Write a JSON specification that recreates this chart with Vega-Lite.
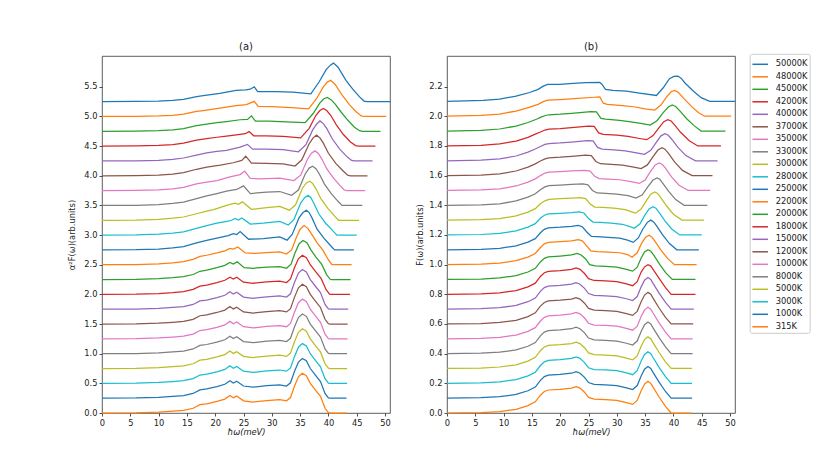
{
  "$schema": "https://vega.github.io/schema/vega-lite/v6.json",
  "padding": {"left": 67, "top": 41, "right": 4, "bottom": 4},
  "background": "white",
  "spacing": 57,
  "bounds": "flush",
  "datasets": {
    "a": [
      {"t":315,"x":0,"y":0},{"t":315,"x":6,"y":0.003},{"t":315,"x":10,"y":0.015},{"t":315,"x":12.5,"y":0.03},{"t":315,"x":14.4,"y":0.045},{"t":315,"x":16.1,"y":0.08},{"t":315,"x":17.3,"y":0.14},{"t":315,"x":18.5,"y":0.155},{"t":315,"x":20.3,"y":0.195},{"t":315,"x":21.7,"y":0.235},{"t":315,"x":22.6,"y":0.295},{"t":315,"x":23.2,"y":0.255},{"t":315,"x":23.8,"y":0.285},{"t":315,"x":25,"y":0.205},{"t":315,"x":26.7,"y":0.185},{"t":315,"x":29.1,"y":0.21},{"t":315,"x":31.4,"y":0.225},{"t":315,"x":32.6,"y":0.205},{"t":315,"x":33.3,"y":0.26},{"t":315,"x":34,"y":0.45},{"t":315,"x":34.7,"y":0.61},{"t":315,"x":35.4,"y":0.67},{"t":315,"x":36.1,"y":0.63},{"t":315,"x":36.8,"y":0.5},{"t":315,"x":37.6,"y":0.4},{"t":315,"x":38.6,"y":0.28},{"t":315,"x":39.4,"y":0.08},{"t":315,"x":40,"y":0.005},{"t":315,"x":40.3,"y":0},{"t":315,"x":43.2,"y":0},
      {"t":1000,"x":0,"y":0.25},{"t":1000,"x":6,"y":0.253},{"t":1000,"x":10,"y":0.265},{"t":1000,"x":12.5,"y":0.28},{"t":1000,"x":14.4,"y":0.295},{"t":1000,"x":16.1,"y":0.33},{"t":1000,"x":17.3,"y":0.39},{"t":1000,"x":18.5,"y":0.405},{"t":1000,"x":20.3,"y":0.445},{"t":1000,"x":21.7,"y":0.485},{"t":1000,"x":22.6,"y":0.545},{"t":1000,"x":23.2,"y":0.505},{"t":1000,"x":23.8,"y":0.535},{"t":1000,"x":25,"y":0.455},{"t":1000,"x":26.7,"y":0.435},{"t":1000,"x":29.1,"y":0.46},{"t":1000,"x":31.4,"y":0.475},{"t":1000,"x":32.6,"y":0.455},{"t":1000,"x":33.3,"y":0.51},{"t":1000,"x":34,"y":0.7},{"t":1000,"x":34.7,"y":0.86},{"t":1000,"x":35.4,"y":0.92},{"t":1000,"x":36.1,"y":0.88},{"t":1000,"x":36.8,"y":0.75},{"t":1000,"x":37.6,"y":0.65},{"t":1000,"x":38.6,"y":0.53},{"t":1000,"x":39.4,"y":0.33},{"t":1000,"x":40,"y":0.255},{"t":1000,"x":40.3,"y":0.25},{"t":1000,"x":43.2,"y":0.25},
      {"t":3000,"x":0,"y":0.5},{"t":3000,"x":6,"y":0.503},{"t":3000,"x":10,"y":0.515},{"t":3000,"x":12.5,"y":0.53},{"t":3000,"x":14.4,"y":0.545},{"t":3000,"x":16.1,"y":0.58},{"t":3000,"x":17.3,"y":0.64},{"t":3000,"x":18.5,"y":0.655},{"t":3000,"x":20.3,"y":0.695},{"t":3000,"x":21.7,"y":0.735},{"t":3000,"x":22.6,"y":0.795},{"t":3000,"x":23.2,"y":0.755},{"t":3000,"x":23.8,"y":0.785},{"t":3000,"x":25,"y":0.705},{"t":3000,"x":26.7,"y":0.685},{"t":3000,"x":29.1,"y":0.71},{"t":3000,"x":31.4,"y":0.725},{"t":3000,"x":32.6,"y":0.705},{"t":3000,"x":33.3,"y":0.76},{"t":3000,"x":34,"y":0.95},{"t":3000,"x":34.7,"y":1.11},{"t":3000,"x":35.4,"y":1.17},{"t":3000,"x":36.1,"y":1.13},{"t":3000,"x":36.8,"y":1.0},{"t":3000,"x":37.6,"y":0.9},{"t":3000,"x":38.6,"y":0.78},{"t":3000,"x":39.4,"y":0.58},{"t":3000,"x":40,"y":0.505},{"t":3000,"x":40.3,"y":0.5},{"t":3000,"x":43.3,"y":0.5},
      {"t":5000,"x":0,"y":0.75},{"t":5000,"x":6,"y":0.753},{"t":5000,"x":10,"y":0.765},{"t":5000,"x":12.5,"y":0.78},{"t":5000,"x":14.4,"y":0.795},{"t":5000,"x":16.1,"y":0.83},{"t":5000,"x":17.3,"y":0.89},{"t":5000,"x":18.5,"y":0.905},{"t":5000,"x":20.3,"y":0.945},{"t":5000,"x":21.7,"y":0.985},{"t":5000,"x":22.6,"y":1.045},{"t":5000,"x":23.2,"y":1.005},{"t":5000,"x":23.8,"y":1.035},{"t":5000,"x":25,"y":0.955},{"t":5000,"x":26.7,"y":0.935},{"t":5000,"x":29.1,"y":0.96},{"t":5000,"x":31.4,"y":0.975},{"t":5000,"x":32.6,"y":0.955},{"t":5000,"x":33.3,"y":1.01},{"t":5000,"x":34,"y":1.2},{"t":5000,"x":34.7,"y":1.36},{"t":5000,"x":35.4,"y":1.42},{"t":5000,"x":36.1,"y":1.38},{"t":5000,"x":36.8,"y":1.25},{"t":5000,"x":37.6,"y":1.15},{"t":5000,"x":38.6,"y":1.03},{"t":5000,"x":39.4,"y":0.83},{"t":5000,"x":40,"y":0.755},{"t":5000,"x":40.3,"y":0.75},{"t":5000,"x":43.3,"y":0.75},
      {"t":8000,"x":0,"y":1},{"t":8000,"x":6,"y":1.003},{"t":8000,"x":10,"y":1.015},{"t":8000,"x":12.5,"y":1.03},{"t":8000,"x":14.4,"y":1.045},{"t":8000,"x":16.1,"y":1.08},{"t":8000,"x":17.3,"y":1.14},{"t":8000,"x":18.5,"y":1.155},{"t":8000,"x":20.3,"y":1.195},{"t":8000,"x":21.7,"y":1.235},{"t":8000,"x":22.6,"y":1.295},{"t":8000,"x":23.2,"y":1.255},{"t":8000,"x":23.8,"y":1.285},{"t":8000,"x":25,"y":1.205},{"t":8000,"x":26.7,"y":1.185},{"t":8000,"x":29.1,"y":1.21},{"t":8000,"x":31.4,"y":1.225},{"t":8000,"x":32.6,"y":1.205},{"t":8000,"x":33.3,"y":1.26},{"t":8000,"x":34,"y":1.45},{"t":8000,"x":34.7,"y":1.61},{"t":8000,"x":35.4,"y":1.67},{"t":8000,"x":36.1,"y":1.63},{"t":8000,"x":36.8,"y":1.5},{"t":8000,"x":37.6,"y":1.4},{"t":8000,"x":38.6,"y":1.28},{"t":8000,"x":39.4,"y":1.08},{"t":8000,"x":40,"y":1.005},{"t":8000,"x":40.3,"y":1},{"t":8000,"x":43.3,"y":1},
      {"t":10000,"x":0,"y":1.25},{"t":10000,"x":6,"y":1.253},{"t":10000,"x":10,"y":1.265},{"t":10000,"x":12.5,"y":1.28},{"t":10000,"x":14.4,"y":1.295},{"t":10000,"x":16.1,"y":1.33},{"t":10000,"x":17.3,"y":1.39},{"t":10000,"x":18.5,"y":1.405},{"t":10000,"x":20.3,"y":1.445},{"t":10000,"x":21.7,"y":1.485},{"t":10000,"x":22.6,"y":1.545},{"t":10000,"x":23.2,"y":1.505},{"t":10000,"x":23.8,"y":1.535},{"t":10000,"x":25,"y":1.455},{"t":10000,"x":26.7,"y":1.435},{"t":10000,"x":29.1,"y":1.46},{"t":10000,"x":31.4,"y":1.475},{"t":10000,"x":32.6,"y":1.455},{"t":10000,"x":33.3,"y":1.51},{"t":10000,"x":34,"y":1.7},{"t":10000,"x":34.7,"y":1.86},{"t":10000,"x":35.4,"y":1.92},{"t":10000,"x":36.1,"y":1.88},{"t":10000,"x":36.8,"y":1.75},{"t":10000,"x":37.6,"y":1.65},{"t":10000,"x":38.6,"y":1.53},{"t":10000,"x":39.4,"y":1.33},{"t":10000,"x":40,"y":1.255},{"t":10000,"x":40.3,"y":1.25},{"t":10000,"x":43.4,"y":1.25},
      {"t":12000,"x":0,"y":1.5},{"t":12000,"x":6,"y":1.503},{"t":12000,"x":10,"y":1.515},{"t":12000,"x":12.5,"y":1.53},{"t":12000,"x":14.4,"y":1.545},{"t":12000,"x":16.1,"y":1.58},{"t":12000,"x":17.3,"y":1.64},{"t":12000,"x":18.5,"y":1.655},{"t":12000,"x":20.3,"y":1.695},{"t":12000,"x":21.7,"y":1.735},{"t":12000,"x":22.6,"y":1.795},{"t":12000,"x":23.2,"y":1.755},{"t":12000,"x":23.8,"y":1.785},{"t":12000,"x":25,"y":1.705},{"t":12000,"x":26.7,"y":1.685},{"t":12000,"x":29.1,"y":1.71},{"t":12000,"x":31.4,"y":1.725},{"t":12000,"x":32.6,"y":1.705},{"t":12000,"x":33.3,"y":1.76},{"t":12000,"x":34,"y":1.95},{"t":12000,"x":34.7,"y":2.11},{"t":12000,"x":35.4,"y":2.17},{"t":12000,"x":36.1,"y":2.13},{"t":12000,"x":36.8,"y":2.0},{"t":12000,"x":37.6,"y":1.9},{"t":12000,"x":38.6,"y":1.78},{"t":12000,"x":39.4,"y":1.58},{"t":12000,"x":40,"y":1.505},{"t":12000,"x":40.3,"y":1.5},{"t":12000,"x":43.4,"y":1.5},
      {"t":15000,"x":0,"y":1.75},{"t":15000,"x":6,"y":1.753},{"t":15000,"x":10,"y":1.765},{"t":15000,"x":12.5,"y":1.78},{"t":15000,"x":14.4,"y":1.795},{"t":15000,"x":16.1,"y":1.83},{"t":15000,"x":17.3,"y":1.89},{"t":15000,"x":18.5,"y":1.905},{"t":15000,"x":20.3,"y":1.945},{"t":15000,"x":21.7,"y":1.985},{"t":15000,"x":22.6,"y":2.045},{"t":15000,"x":23.2,"y":2.005},{"t":15000,"x":23.8,"y":2.035},{"t":15000,"x":25,"y":1.955},{"t":15000,"x":26.7,"y":1.935},{"t":15000,"x":29.1,"y":1.96},{"t":15000,"x":31.4,"y":1.975},{"t":15000,"x":32.6,"y":1.955},{"t":15000,"x":33.3,"y":2.01},{"t":15000,"x":34,"y":2.2},{"t":15000,"x":34.7,"y":2.36},{"t":15000,"x":35.4,"y":2.42},{"t":15000,"x":36.1,"y":2.38},{"t":15000,"x":36.8,"y":2.25},{"t":15000,"x":37.6,"y":2.15},{"t":15000,"x":38.6,"y":2.03},{"t":15000,"x":39.4,"y":1.83},{"t":15000,"x":40,"y":1.755},{"t":15000,"x":40.3,"y":1.75},{"t":15000,"x":43.5,"y":1.75},
      {"t":18000,"x":0,"y":2},{"t":18000,"x":6,"y":2.003},{"t":18000,"x":10,"y":2.015},{"t":18000,"x":12.5,"y":2.03},{"t":18000,"x":14.4,"y":2.048},{"t":18000,"x":16.1,"y":2.085},{"t":18000,"x":17.3,"y":2.14},{"t":18000,"x":18.5,"y":2.158},{"t":18000,"x":20.3,"y":2.198},{"t":18000,"x":21.7,"y":2.238},{"t":18000,"x":22.6,"y":2.29},{"t":18000,"x":23.2,"y":2.258},{"t":18000,"x":23.8,"y":2.29},{"t":18000,"x":25,"y":2.205},{"t":18000,"x":26.7,"y":2.188},{"t":18000,"x":29.1,"y":2.21},{"t":18000,"x":31.4,"y":2.222},{"t":18000,"x":32.6,"y":2.2},{"t":18000,"x":33.3,"y":2.26},{"t":18000,"x":34,"y":2.45},{"t":18000,"x":34.7,"y":2.6},{"t":18000,"x":35.4,"y":2.66},{"t":18000,"x":36.1,"y":2.62},{"t":18000,"x":36.8,"y":2.5},{"t":18000,"x":37.7,"y":2.39},{"t":18000,"x":38.7,"y":2.27},{"t":18000,"x":39.6,"y":2.08},{"t":18000,"x":40.2,"y":2.005},{"t":18000,"x":40.5,"y":2},{"t":18000,"x":43.8,"y":2},
      {"t":20000,"x":0,"y":2.25},{"t":20000,"x":6,"y":2.253},{"t":20000,"x":10,"y":2.265},{"t":20000,"x":12.5,"y":2.282},{"t":20000,"x":14.4,"y":2.3},{"t":20000,"x":16.1,"y":2.335},{"t":20000,"x":17.3,"y":2.39},{"t":20000,"x":18.5,"y":2.41},{"t":20000,"x":20.3,"y":2.45},{"t":20000,"x":21.7,"y":2.49},{"t":20000,"x":22.6,"y":2.54},{"t":20000,"x":23.2,"y":2.51},{"t":20000,"x":23.9,"y":2.55},{"t":20000,"x":25.1,"y":2.45},{"t":20000,"x":26.7,"y":2.44},{"t":20000,"x":29.1,"y":2.46},{"t":20000,"x":31.4,"y":2.47},{"t":20000,"x":32.6,"y":2.44},{"t":20000,"x":33.4,"y":2.51},{"t":20000,"x":34.1,"y":2.7},{"t":20000,"x":34.8,"y":2.85},{"t":20000,"x":35.5,"y":2.91},{"t":20000,"x":36.2,"y":2.87},{"t":20000,"x":36.9,"y":2.75},{"t":20000,"x":37.8,"y":2.63},{"t":20000,"x":38.8,"y":2.51},{"t":20000,"x":39.7,"y":2.33},{"t":20000,"x":40.3,"y":2.255},{"t":20000,"x":40.6,"y":2.25},{"t":20000,"x":43.9,"y":2.25},
      {"t":22000,"x":0,"y":2.5},{"t":22000,"x":6,"y":2.503},{"t":22000,"x":10,"y":2.515},{"t":22000,"x":12.5,"y":2.533},{"t":22000,"x":14.4,"y":2.552},{"t":22000,"x":16.1,"y":2.59},{"t":22000,"x":17.3,"y":2.64},{"t":22000,"x":18.5,"y":2.66},{"t":22000,"x":20.3,"y":2.7},{"t":22000,"x":21.7,"y":2.735},{"t":22000,"x":22.6,"y":2.775},{"t":22000,"x":23.2,"y":2.765},{"t":22000,"x":24,"y":2.8},{"t":22000,"x":25.3,"y":2.7},{"t":22000,"x":26.9,"y":2.69},{"t":22000,"x":29.1,"y":2.705},{"t":22000,"x":31.4,"y":2.715},{"t":22000,"x":32.6,"y":2.68},{"t":22000,"x":33.5,"y":2.75},{"t":22000,"x":34.3,"y":2.95},{"t":22000,"x":35,"y":3.1},{"t":22000,"x":35.7,"y":3.16},{"t":22000,"x":36.4,"y":3.11},{"t":22000,"x":37.2,"y":2.99},{"t":22000,"x":38,"y":2.87},{"t":22000,"x":39,"y":2.75},{"t":22000,"x":40,"y":2.58},{"t":22000,"x":40.6,"y":2.505},{"t":22000,"x":40.9,"y":2.5},{"t":22000,"x":44.1,"y":2.5},
      {"t":25000,"x":0,"y":2.75},{"t":25000,"x":6,"y":2.753},{"t":25000,"x":10,"y":2.765},{"t":25000,"x":12.5,"y":2.785},{"t":25000,"x":14.4,"y":2.805},{"t":25000,"x":16.7,"y":2.87},{"t":25000,"x":18.5,"y":2.91},{"t":25000,"x":20.3,"y":2.95},{"t":25000,"x":22.3,"y":2.99},{"t":25000,"x":23.2,"y":3.025},{"t":25000,"x":23.8,"y":3.01},{"t":25000,"x":24.4,"y":3.06},{"t":25000,"x":25.9,"y":2.93},{"t":25000,"x":28.5,"y":2.94},{"t":25000,"x":31.4,"y":2.97},{"t":25000,"x":32.7,"y":2.915},{"t":25000,"x":33.6,"y":3.01},{"t":25000,"x":34.8,"y":3.29},{"t":25000,"x":35.5,"y":3.38},{"t":25000,"x":36.1,"y":3.42},{"t":25000,"x":36.6,"y":3.38},{"t":25000,"x":37.1,"y":3.29},{"t":25000,"x":38,"y":3.1},{"t":25000,"x":39.2,"y":2.95},{"t":25000,"x":40.4,"y":2.82},{"t":25000,"x":41.1,"y":2.75},{"t":25000,"x":44.5,"y":2.75},
      {"t":28000,"x":0,"y":3},{"t":28000,"x":6,"y":3.003},{"t":28000,"x":10,"y":3.015},{"t":28000,"x":12.5,"y":3.035},{"t":28000,"x":14.4,"y":3.055},{"t":28000,"x":16.7,"y":3.115},{"t":28000,"x":18.5,"y":3.16},{"t":28000,"x":20.3,"y":3.2},{"t":28000,"x":22.3,"y":3.235},{"t":28000,"x":22.9,"y":3.25},{"t":28000,"x":23.5,"y":3.28},{"t":28000,"x":24.1,"y":3.255},{"t":28000,"x":24.7,"y":3.29},{"t":28000,"x":26.2,"y":3.185},{"t":28000,"x":28.5,"y":3.2},{"t":28000,"x":31.4,"y":3.23},{"t":28000,"x":32.9,"y":3.17},{"t":28000,"x":33.9,"y":3.26},{"t":28000,"x":35.1,"y":3.54},{"t":28000,"x":35.8,"y":3.63},{"t":28000,"x":36.4,"y":3.67},{"t":28000,"x":36.9,"y":3.63},{"t":28000,"x":37.4,"y":3.54},{"t":28000,"x":38.3,"y":3.36},{"t":28000,"x":39.5,"y":3.2},{"t":28000,"x":40.8,"y":3.07},{"t":28000,"x":41.5,"y":3},{"t":28000,"x":45,"y":3},
      {"t":30000,"x":0,"y":3.25},{"t":30000,"x":6,"y":3.253},{"t":30000,"x":10,"y":3.265},{"t":30000,"x":12.5,"y":3.285},{"t":30000,"x":14.4,"y":3.305},{"t":30000,"x":16.7,"y":3.36},{"t":30000,"x":18.5,"y":3.405},{"t":30000,"x":19.7,"y":3.43},{"t":30000,"x":22.3,"y":3.51},{"t":30000,"x":23.5,"y":3.54},{"t":30000,"x":24.1,"y":3.52},{"t":30000,"x":24.8,"y":3.56},{"t":30000,"x":26.4,"y":3.435},{"t":30000,"x":28.7,"y":3.46},{"t":30000,"x":31.4,"y":3.485},{"t":30000,"x":33.1,"y":3.42},{"t":30000,"x":34.2,"y":3.51},{"t":30000,"x":35.4,"y":3.79},{"t":30000,"x":36.1,"y":3.88},{"t":30000,"x":36.7,"y":3.91},{"t":30000,"x":37.2,"y":3.87},{"t":30000,"x":37.8,"y":3.78},{"t":30000,"x":38.7,"y":3.61},{"t":30000,"x":39.9,"y":3.45},{"t":30000,"x":41.1,"y":3.32},{"t":30000,"x":41.8,"y":3.25},{"t":30000,"x":45.4,"y":3.25},
      {"t":33000,"x":0,"y":3.5},{"t":33000,"x":6,"y":3.503},{"t":33000,"x":10,"y":3.515},{"t":33000,"x":12.5,"y":3.535},{"t":33000,"x":14.4,"y":3.555},{"t":33000,"x":16.7,"y":3.615},{"t":33000,"x":18.5,"y":3.66},{"t":33000,"x":20.3,"y":3.7},{"t":33000,"x":22,"y":3.74},{"t":33000,"x":23.8,"y":3.77},{"t":33000,"x":25,"y":3.83},{"t":33000,"x":26.2,"y":3.7},{"t":33000,"x":29.1,"y":3.725},{"t":33000,"x":31.4,"y":3.735},{"t":33000,"x":33.5,"y":3.67},{"t":33000,"x":34.7,"y":3.76},{"t":33000,"x":35.9,"y":4.03},{"t":33000,"x":36.6,"y":4.13},{"t":33000,"x":37.2,"y":4.16},{"t":33000,"x":37.8,"y":4.12},{"t":33000,"x":38.4,"y":4.03},{"t":33000,"x":39.3,"y":3.86},{"t":33000,"x":40.5,"y":3.7},{"t":33000,"x":41.7,"y":3.57},{"t":33000,"x":42.4,"y":3.5},{"t":33000,"x":46,"y":3.5},
      {"t":35000,"x":0,"y":3.75},{"t":35000,"x":6,"y":3.753},{"t":35000,"x":10,"y":3.762},{"t":35000,"x":12.5,"y":3.78},{"t":35000,"x":14.4,"y":3.805},{"t":35000,"x":16.7,"y":3.865},{"t":35000,"x":18.5,"y":3.895},{"t":35000,"x":20.3,"y":3.92},{"t":35000,"x":22.6,"y":3.98},{"t":35000,"x":24.4,"y":4.02},{"t":35000,"x":25.2,"y":4.08},{"t":35000,"x":26.2,"y":3.955},{"t":35000,"x":27.9,"y":3.95},{"t":35000,"x":31.4,"y":3.96},{"t":35000,"x":33.9,"y":3.92},{"t":35000,"x":35.1,"y":4.01},{"t":35000,"x":36.3,"y":4.28},{"t":35000,"x":37,"y":4.38},{"t":35000,"x":37.6,"y":4.42},{"t":35000,"x":38.2,"y":4.38},{"t":35000,"x":38.8,"y":4.29},{"t":35000,"x":39.7,"y":4.12},{"t":35000,"x":40.9,"y":3.96},{"t":35000,"x":42.1,"y":3.83},{"t":35000,"x":42.8,"y":3.76},{"t":35000,"x":43.3,"y":3.75},{"t":35000,"x":46.5,"y":3.75},
      {"t":37000,"x":0,"y":4},{"t":37000,"x":6,"y":4.003},{"t":37000,"x":10,"y":4.012},{"t":37000,"x":12.5,"y":4.03},{"t":37000,"x":14.4,"y":4.055},{"t":37000,"x":16.7,"y":4.11},{"t":37000,"x":18.5,"y":4.145},{"t":37000,"x":20.9,"y":4.18},{"t":37000,"x":23.2,"y":4.22},{"t":37000,"x":24.7,"y":4.26},{"t":37000,"x":25.4,"y":4.33},{"t":37000,"x":26.4,"y":4.215},{"t":37000,"x":29,"y":4.21},{"t":37000,"x":32,"y":4.2},{"t":37000,"x":34.1,"y":4.165},{"t":37000,"x":35.3,"y":4.27},{"t":37000,"x":36.6,"y":4.54},{"t":37000,"x":37.3,"y":4.64},{"t":37000,"x":37.9,"y":4.685},{"t":37000,"x":38.5,"y":4.64},{"t":37000,"x":39.1,"y":4.55},{"t":37000,"x":40,"y":4.38},{"t":37000,"x":41.3,"y":4.21},{"t":37000,"x":42.6,"y":4.08},{"t":37000,"x":43.4,"y":4.01},{"t":37000,"x":43.9,"y":4},{"t":37000,"x":46.9,"y":4},
      {"t":40000,"x":0,"y":4.25},{"t":40000,"x":6,"y":4.253},{"t":40000,"x":10,"y":4.262},{"t":40000,"x":12.5,"y":4.275},{"t":40000,"x":14.4,"y":4.3},{"t":40000,"x":16.7,"y":4.35},{"t":40000,"x":18.5,"y":4.385},{"t":40000,"x":20.3,"y":4.41},{"t":40000,"x":22,"y":4.43},{"t":40000,"x":24.4,"y":4.485},{"t":40000,"x":25.7,"y":4.53},{"t":40000,"x":26.6,"y":4.45},{"t":40000,"x":29,"y":4.45},{"t":40000,"x":32,"y":4.44},{"t":40000,"x":34.7,"y":4.405},{"t":40000,"x":36,"y":4.52},{"t":40000,"x":37.2,"y":4.77},{"t":40000,"x":37.9,"y":4.87},{"t":40000,"x":38.5,"y":4.925},{"t":40000,"x":39.1,"y":4.88},{"t":40000,"x":39.7,"y":4.8},{"t":40000,"x":40.7,"y":4.62},{"t":40000,"x":42,"y":4.45},{"t":40000,"x":43.3,"y":4.32},{"t":40000,"x":44.1,"y":4.26},{"t":40000,"x":44.6,"y":4.25},{"t":40000,"x":47.8,"y":4.25},
      {"t":42000,"x":0,"y":4.5},{"t":42000,"x":6,"y":4.503},{"t":42000,"x":10,"y":4.512},{"t":42000,"x":12.5,"y":4.525},{"t":42000,"x":14.4,"y":4.55},{"t":42000,"x":16.7,"y":4.6},{"t":42000,"x":18.5,"y":4.625},{"t":42000,"x":20.3,"y":4.65},{"t":42000,"x":22,"y":4.67},{"t":42000,"x":24.4,"y":4.7},{"t":42000,"x":25.3,"y":4.71},{"t":42000,"x":26,"y":4.745},{"t":42000,"x":26.8,"y":4.675},{"t":42000,"x":29,"y":4.675},{"t":42000,"x":32,"y":4.665},{"t":42000,"x":35.1,"y":4.64},{"t":42000,"x":36.6,"y":4.8},{"t":42000,"x":37.8,"y":5.02},{"t":42000,"x":38.5,"y":5.1},{"t":42000,"x":39.1,"y":5.135},{"t":42000,"x":39.7,"y":5.1},{"t":42000,"x":40.4,"y":5.02},{"t":42000,"x":41.4,"y":4.86},{"t":42000,"x":42.6,"y":4.7},{"t":42000,"x":43.9,"y":4.57},{"t":42000,"x":44.8,"y":4.51},{"t":42000,"x":45.3,"y":4.5},{"t":42000,"x":48.3,"y":4.5},
      {"t":45000,"x":0,"y":4.75},{"t":45000,"x":6,"y":4.753},{"t":45000,"x":10,"y":4.762},{"t":45000,"x":12.5,"y":4.775},{"t":45000,"x":14.4,"y":4.795},{"t":45000,"x":16.7,"y":4.845},{"t":45000,"x":18.5,"y":4.87},{"t":45000,"x":20.3,"y":4.895},{"t":45000,"x":22,"y":4.915},{"t":45000,"x":24.4,"y":4.945},{"t":45000,"x":25.7,"y":4.95},{"t":45000,"x":26.4,"y":5.01},{"t":45000,"x":27.1,"y":4.92},{"t":45000,"x":29.5,"y":4.92},{"t":45000,"x":32.5,"y":4.91},{"t":45000,"x":35.9,"y":4.895},{"t":45000,"x":37.3,"y":5.05},{"t":45000,"x":38.5,"y":5.23},{"t":45000,"x":39.2,"y":5.3},{"t":45000,"x":39.8,"y":5.32},{"t":45000,"x":40.5,"y":5.28},{"t":45000,"x":41.2,"y":5.21},{"t":45000,"x":42.2,"y":5.08},{"t":45000,"x":43.4,"y":4.94},{"t":45000,"x":44.6,"y":4.82},{"t":45000,"x":45.5,"y":4.76},{"t":45000,"x":46,"y":4.75},{"t":45000,"x":49.2,"y":4.75},
      {"t":48000,"x":0,"y":5},{"t":48000,"x":6,"y":5.003},{"t":48000,"x":10,"y":5.01},{"t":48000,"x":12.5,"y":5.02},{"t":48000,"x":14.4,"y":5.04},{"t":48000,"x":16.7,"y":5.085},{"t":48000,"x":17.9,"y":5.1},{"t":48000,"x":20.8,"y":5.14},{"t":48000,"x":23.7,"y":5.185},{"t":48000,"x":25.5,"y":5.2},{"t":48000,"x":26.9,"y":5.255},{"t":48000,"x":27.6,"y":5.17},{"t":48000,"x":30,"y":5.165},{"t":48000,"x":33.5,"y":5.15},{"t":48000,"x":36.5,"y":5.13},{"t":48000,"x":37.9,"y":5.3},{"t":48000,"x":39.1,"y":5.5},{"t":48000,"x":39.8,"y":5.58},{"t":48000,"x":40.4,"y":5.61},{"t":48000,"x":41.2,"y":5.54},{"t":48000,"x":42.5,"y":5.35},{"t":48000,"x":43.7,"y":5.2},{"t":48000,"x":44.9,"y":5.08},{"t":48000,"x":45.8,"y":5.01},{"t":48000,"x":46.3,"y":5},{"t":48000,"x":50.2,"y":5},
      {"t":50000,"x":0,"y":5.25},{"t":50000,"x":6,"y":5.253},{"t":50000,"x":10,"y":5.26},{"t":50000,"x":12.5,"y":5.27},{"t":50000,"x":14.4,"y":5.29},{"t":50000,"x":16.7,"y":5.335},{"t":50000,"x":17.9,"y":5.35},{"t":50000,"x":20.8,"y":5.39},{"t":50000,"x":23.7,"y":5.44},{"t":50000,"x":25.4,"y":5.45},{"t":50000,"x":26.2,"y":5.46},{"t":50000,"x":26.9,"y":5.5},{"t":50000,"x":27.5,"y":5.42},{"t":50000,"x":30.7,"y":5.42},{"t":50000,"x":33.7,"y":5.41},{"t":50000,"x":36.9,"y":5.38},{"t":50000,"x":38.4,"y":5.59},{"t":50000,"x":39.6,"y":5.79},{"t":50000,"x":40.4,"y":5.87},{"t":50000,"x":40.9,"y":5.9},{"t":50000,"x":41.7,"y":5.83},{"t":50000,"x":43.1,"y":5.61},{"t":50000,"x":44.3,"y":5.46},{"t":50000,"x":45.5,"y":5.33},{"t":50000,"x":46.3,"y":5.26},{"t":50000,"x":46.8,"y":5.25},{"t":50000,"x":50.88,"y":5.25}
    ],
    "b": [
      {"t":315,"x":0,"y":0},{"t":315,"x":6,"y":0.003},{"t":315,"x":9.3,"y":0.01},{"t":315,"x":12.2,"y":0.025},{"t":315,"x":14.3,"y":0.05},{"t":315,"x":15.6,"y":0.075},{"t":315,"x":16.5,"y":0.12},{"t":315,"x":17.2,"y":0.145},{"t":315,"x":17.9,"y":0.155},{"t":315,"x":20,"y":0.16},{"t":315,"x":22,"y":0.168},{"t":315,"x":22.8,"y":0.178},{"t":315,"x":23.5,"y":0.168},{"t":315,"x":24.3,"y":0.14},{"t":315,"x":25,"y":0.105},{"t":315,"x":26,"y":0.093},{"t":315,"x":28,"y":0.09},{"t":315,"x":30,"y":0.085},{"t":315,"x":31.7,"y":0.07},{"t":315,"x":32.8,"y":0.058},{"t":315,"x":33.6,"y":0.085},{"t":315,"x":34.3,"y":0.15},{"t":315,"x":34.9,"y":0.195},{"t":315,"x":35.5,"y":0.213},{"t":315,"x":36,"y":0.2},{"t":315,"x":36.4,"y":0.174},{"t":315,"x":37.5,"y":0.106},{"t":315,"x":38.6,"y":0.045},{"t":315,"x":39.6,"y":0},{"t":315,"x":43.2,"y":0},
      {"t":1000,"x":0,"y":0.1},{"t":1000,"x":6,"y":0.103},{"t":1000,"x":9.3,"y":0.11},{"t":1000,"x":12.2,"y":0.125},{"t":1000,"x":14.3,"y":0.15},{"t":1000,"x":15.6,"y":0.175},{"t":1000,"x":16.5,"y":0.22},{"t":1000,"x":17.2,"y":0.245},{"t":1000,"x":17.9,"y":0.255},{"t":1000,"x":20,"y":0.26},{"t":1000,"x":22,"y":0.268},{"t":1000,"x":22.8,"y":0.278},{"t":1000,"x":23.5,"y":0.268},{"t":1000,"x":24.3,"y":0.24},{"t":1000,"x":25,"y":0.205},{"t":1000,"x":26,"y":0.193},{"t":1000,"x":28,"y":0.19},{"t":1000,"x":30,"y":0.185},{"t":1000,"x":31.7,"y":0.17},{"t":1000,"x":32.8,"y":0.158},{"t":1000,"x":33.6,"y":0.185},{"t":1000,"x":34.3,"y":0.25},{"t":1000,"x":34.9,"y":0.295},{"t":1000,"x":35.5,"y":0.313},{"t":1000,"x":36,"y":0.3},{"t":1000,"x":36.4,"y":0.274},{"t":1000,"x":37.5,"y":0.206},{"t":1000,"x":38.6,"y":0.145},{"t":1000,"x":39.6,"y":0.1},{"t":1000,"x":43.3,"y":0.1},
      {"t":3000,"x":0,"y":0.2},{"t":3000,"x":6,"y":0.203},{"t":3000,"x":9.3,"y":0.21},{"t":3000,"x":12.2,"y":0.225},{"t":3000,"x":14.3,"y":0.25},{"t":3000,"x":15.6,"y":0.275},{"t":3000,"x":16.5,"y":0.32},{"t":3000,"x":17.2,"y":0.345},{"t":3000,"x":17.9,"y":0.355},{"t":3000,"x":20,"y":0.36},{"t":3000,"x":22,"y":0.368},{"t":3000,"x":22.8,"y":0.378},{"t":3000,"x":23.5,"y":0.368},{"t":3000,"x":24.3,"y":0.34},{"t":3000,"x":25,"y":0.305},{"t":3000,"x":26,"y":0.293},{"t":3000,"x":28,"y":0.29},{"t":3000,"x":30,"y":0.285},{"t":3000,"x":31.7,"y":0.27},{"t":3000,"x":32.8,"y":0.258},{"t":3000,"x":33.6,"y":0.285},{"t":3000,"x":34.3,"y":0.35},{"t":3000,"x":34.9,"y":0.395},{"t":3000,"x":35.5,"y":0.413},{"t":3000,"x":36,"y":0.4},{"t":3000,"x":36.4,"y":0.374},{"t":3000,"x":37.5,"y":0.306},{"t":3000,"x":38.6,"y":0.245},{"t":3000,"x":39.6,"y":0.2},{"t":3000,"x":43.3,"y":0.2},
      {"t":5000,"x":0,"y":0.3},{"t":5000,"x":6,"y":0.303},{"t":5000,"x":9.3,"y":0.31},{"t":5000,"x":12.2,"y":0.325},{"t":5000,"x":14.3,"y":0.35},{"t":5000,"x":15.6,"y":0.375},{"t":5000,"x":16.5,"y":0.42},{"t":5000,"x":17.2,"y":0.445},{"t":5000,"x":17.9,"y":0.455},{"t":5000,"x":20,"y":0.46},{"t":5000,"x":22,"y":0.468},{"t":5000,"x":22.8,"y":0.478},{"t":5000,"x":23.5,"y":0.468},{"t":5000,"x":24.3,"y":0.44},{"t":5000,"x":25,"y":0.405},{"t":5000,"x":26,"y":0.393},{"t":5000,"x":28,"y":0.39},{"t":5000,"x":30,"y":0.385},{"t":5000,"x":31.7,"y":0.37},{"t":5000,"x":32.8,"y":0.358},{"t":5000,"x":33.6,"y":0.385},{"t":5000,"x":34.3,"y":0.45},{"t":5000,"x":34.9,"y":0.495},{"t":5000,"x":35.5,"y":0.513},{"t":5000,"x":36,"y":0.5},{"t":5000,"x":36.4,"y":0.474},{"t":5000,"x":37.5,"y":0.406},{"t":5000,"x":38.6,"y":0.345},{"t":5000,"x":39.6,"y":0.3},{"t":5000,"x":43.3,"y":0.3},
      {"t":8000,"x":0,"y":0.4},{"t":8000,"x":6,"y":0.403},{"t":8000,"x":9.3,"y":0.41},{"t":8000,"x":12.2,"y":0.425},{"t":8000,"x":14.3,"y":0.45},{"t":8000,"x":15.6,"y":0.475},{"t":8000,"x":16.5,"y":0.52},{"t":8000,"x":17.2,"y":0.545},{"t":8000,"x":17.9,"y":0.555},{"t":8000,"x":20,"y":0.56},{"t":8000,"x":22,"y":0.568},{"t":8000,"x":22.8,"y":0.578},{"t":8000,"x":23.5,"y":0.568},{"t":8000,"x":24.3,"y":0.54},{"t":8000,"x":25,"y":0.505},{"t":8000,"x":26,"y":0.493},{"t":8000,"x":28,"y":0.49},{"t":8000,"x":30,"y":0.485},{"t":8000,"x":31.7,"y":0.47},{"t":8000,"x":32.8,"y":0.458},{"t":8000,"x":33.6,"y":0.485},{"t":8000,"x":34.3,"y":0.55},{"t":8000,"x":34.9,"y":0.595},{"t":8000,"x":35.5,"y":0.613},{"t":8000,"x":36,"y":0.6},{"t":8000,"x":36.4,"y":0.574},{"t":8000,"x":37.5,"y":0.506},{"t":8000,"x":38.6,"y":0.445},{"t":8000,"x":39.6,"y":0.4},{"t":8000,"x":43.4,"y":0.4},
      {"t":10000,"x":0,"y":0.5},{"t":10000,"x":6,"y":0.503},{"t":10000,"x":9.3,"y":0.51},{"t":10000,"x":12.2,"y":0.525},{"t":10000,"x":14.3,"y":0.55},{"t":10000,"x":15.6,"y":0.575},{"t":10000,"x":16.5,"y":0.62},{"t":10000,"x":17.2,"y":0.645},{"t":10000,"x":17.9,"y":0.655},{"t":10000,"x":20,"y":0.66},{"t":10000,"x":22,"y":0.668},{"t":10000,"x":22.8,"y":0.678},{"t":10000,"x":23.5,"y":0.668},{"t":10000,"x":24.3,"y":0.64},{"t":10000,"x":25,"y":0.605},{"t":10000,"x":26,"y":0.593},{"t":10000,"x":28,"y":0.59},{"t":10000,"x":30,"y":0.585},{"t":10000,"x":31.7,"y":0.57},{"t":10000,"x":32.8,"y":0.558},{"t":10000,"x":33.6,"y":0.585},{"t":10000,"x":34.3,"y":0.65},{"t":10000,"x":34.9,"y":0.695},{"t":10000,"x":35.5,"y":0.713},{"t":10000,"x":36,"y":0.7},{"t":10000,"x":36.4,"y":0.674},{"t":10000,"x":37.5,"y":0.606},{"t":10000,"x":38.6,"y":0.545},{"t":10000,"x":39.6,"y":0.5},{"t":10000,"x":43.4,"y":0.5},
      {"t":12000,"x":0,"y":0.6},{"t":12000,"x":6,"y":0.603},{"t":12000,"x":9.3,"y":0.61},{"t":12000,"x":12.2,"y":0.625},{"t":12000,"x":14.3,"y":0.65},{"t":12000,"x":15.6,"y":0.675},{"t":12000,"x":16.5,"y":0.72},{"t":12000,"x":17.2,"y":0.745},{"t":12000,"x":17.9,"y":0.755},{"t":12000,"x":20,"y":0.76},{"t":12000,"x":22,"y":0.768},{"t":12000,"x":22.8,"y":0.778},{"t":12000,"x":23.5,"y":0.768},{"t":12000,"x":24.3,"y":0.74},{"t":12000,"x":25,"y":0.705},{"t":12000,"x":26,"y":0.693},{"t":12000,"x":28,"y":0.69},{"t":12000,"x":30,"y":0.685},{"t":12000,"x":31.7,"y":0.67},{"t":12000,"x":32.8,"y":0.658},{"t":12000,"x":33.6,"y":0.685},{"t":12000,"x":34.3,"y":0.75},{"t":12000,"x":34.9,"y":0.795},{"t":12000,"x":35.5,"y":0.813},{"t":12000,"x":36,"y":0.8},{"t":12000,"x":36.4,"y":0.774},{"t":12000,"x":37.5,"y":0.706},{"t":12000,"x":38.6,"y":0.645},{"t":12000,"x":39.6,"y":0.6},{"t":12000,"x":43.5,"y":0.6},
      {"t":15000,"x":0,"y":0.7},{"t":15000,"x":6,"y":0.703},{"t":15000,"x":9.3,"y":0.71},{"t":15000,"x":12.2,"y":0.725},{"t":15000,"x":14.3,"y":0.75},{"t":15000,"x":15.6,"y":0.775},{"t":15000,"x":16.5,"y":0.82},{"t":15000,"x":17.2,"y":0.845},{"t":15000,"x":17.9,"y":0.855},{"t":15000,"x":20,"y":0.86},{"t":15000,"x":22,"y":0.868},{"t":15000,"x":22.8,"y":0.878},{"t":15000,"x":23.5,"y":0.868},{"t":15000,"x":24.3,"y":0.84},{"t":15000,"x":25,"y":0.805},{"t":15000,"x":26,"y":0.793},{"t":15000,"x":28,"y":0.79},{"t":15000,"x":30,"y":0.785},{"t":15000,"x":31.7,"y":0.77},{"t":15000,"x":32.8,"y":0.758},{"t":15000,"x":33.6,"y":0.785},{"t":15000,"x":34.3,"y":0.85},{"t":15000,"x":34.9,"y":0.895},{"t":15000,"x":35.5,"y":0.913},{"t":15000,"x":36,"y":0.9},{"t":15000,"x":36.4,"y":0.874},{"t":15000,"x":37.5,"y":0.806},{"t":15000,"x":38.6,"y":0.745},{"t":15000,"x":39.6,"y":0.7},{"t":15000,"x":43.6,"y":0.7},
      {"t":18000,"x":0,"y":0.8},{"t":18000,"x":6,"y":0.803},{"t":18000,"x":9.3,"y":0.81},{"t":18000,"x":12.2,"y":0.825},{"t":18000,"x":14.3,"y":0.85},{"t":18000,"x":15.6,"y":0.875},{"t":18000,"x":16.5,"y":0.92},{"t":18000,"x":17.2,"y":0.945},{"t":18000,"x":17.9,"y":0.955},{"t":18000,"x":20,"y":0.96},{"t":18000,"x":22,"y":0.968},{"t":18000,"x":22.8,"y":0.978},{"t":18000,"x":23.5,"y":0.968},{"t":18000,"x":24.3,"y":0.94},{"t":18000,"x":25,"y":0.905},{"t":18000,"x":26,"y":0.893},{"t":18000,"x":28,"y":0.89},{"t":18000,"x":30,"y":0.885},{"t":18000,"x":31.7,"y":0.87},{"t":18000,"x":32.8,"y":0.858},{"t":18000,"x":33.6,"y":0.885},{"t":18000,"x":34.3,"y":0.95},{"t":18000,"x":34.9,"y":0.985},{"t":18000,"x":35.5,"y":1.0},{"t":18000,"x":36,"y":0.99},{"t":18000,"x":36.4,"y":0.968},{"t":18000,"x":37.5,"y":0.906},{"t":18000,"x":38.6,"y":0.845},{"t":18000,"x":39.6,"y":0.8},{"t":18000,"x":43.9,"y":0.8},
      {"t":20000,"x":0,"y":0.9},{"t":20000,"x":6,"y":0.903},{"t":20000,"x":9.3,"y":0.91},{"t":20000,"x":12.2,"y":0.926},{"t":20000,"x":14.3,"y":0.95},{"t":20000,"x":15.6,"y":0.975},{"t":20000,"x":16.5,"y":1.018},{"t":20000,"x":17.2,"y":1.042},{"t":20000,"x":17.9,"y":1.052},{"t":20000,"x":20,"y":1.058},{"t":20000,"x":22,"y":1.065},{"t":20000,"x":23,"y":1.075},{"t":20000,"x":23.7,"y":1.065},{"t":20000,"x":24.5,"y":1.038},{"t":20000,"x":25.2,"y":1.0},{"t":20000,"x":26.2,"y":0.992},{"t":20000,"x":28,"y":0.989},{"t":20000,"x":30,"y":0.983},{"t":20000,"x":31.7,"y":0.968},{"t":20000,"x":32.8,"y":0.956},{"t":20000,"x":33.6,"y":0.983},{"t":20000,"x":34.3,"y":1.045},{"t":20000,"x":34.9,"y":1.085},{"t":20000,"x":35.5,"y":1.1},{"t":20000,"x":36,"y":1.09},{"t":20000,"x":36.5,"y":1.065},{"t":20000,"x":37.6,"y":1.0},{"t":20000,"x":38.7,"y":0.943},{"t":20000,"x":39.8,"y":0.9},{"t":20000,"x":43.9,"y":0.9},
      {"t":22000,"x":0,"y":1},{"t":22000,"x":6,"y":1.003},{"t":22000,"x":9.3,"y":1.01},{"t":22000,"x":12.2,"y":1.027},{"t":22000,"x":14.3,"y":1.051},{"t":22000,"x":15.6,"y":1.075},{"t":22000,"x":16.5,"y":1.115},{"t":22000,"x":17.2,"y":1.14},{"t":22000,"x":17.9,"y":1.15},{"t":22000,"x":20,"y":1.155},{"t":22000,"x":22,"y":1.16},{"t":22000,"x":23.2,"y":1.168},{"t":22000,"x":23.9,"y":1.16},{"t":22000,"x":24.6,"y":1.13},{"t":22000,"x":25.4,"y":1.092},{"t":22000,"x":26.5,"y":1.088},{"t":22000,"x":28.5,"y":1.085},{"t":22000,"x":30.5,"y":1.08},{"t":22000,"x":31.9,"y":1.068},{"t":22000,"x":32.7,"y":1.05},{"t":22000,"x":33.6,"y":1.08},{"t":22000,"x":34.4,"y":1.145},{"t":22000,"x":35.1,"y":1.185},{"t":22000,"x":35.7,"y":1.198},{"t":22000,"x":36.2,"y":1.185},{"t":22000,"x":36.7,"y":1.16},{"t":22000,"x":37.8,"y":1.098},{"t":22000,"x":39,"y":1.04},{"t":22000,"x":40.2,"y":1},{"t":22000,"x":44.1,"y":1},
      {"t":25000,"x":0,"y":1.1},{"t":25000,"x":6,"y":1.103},{"t":25000,"x":9.3,"y":1.11},{"t":25000,"x":12.2,"y":1.127},{"t":25000,"x":14.3,"y":1.152},{"t":25000,"x":15.6,"y":1.175},{"t":25000,"x":16.5,"y":1.215},{"t":25000,"x":17.2,"y":1.238},{"t":25000,"x":17.9,"y":1.248},{"t":25000,"x":20,"y":1.252},{"t":25000,"x":22,"y":1.258},{"t":25000,"x":23.2,"y":1.265},{"t":25000,"x":23.9,"y":1.255},{"t":25000,"x":24.7,"y":1.22},{"t":25000,"x":25.5,"y":1.19},{"t":25000,"x":26.5,"y":1.188},{"t":25000,"x":28.5,"y":1.184},{"t":25000,"x":30.5,"y":1.178},{"t":25000,"x":31.9,"y":1.165},{"t":25000,"x":32.9,"y":1.15},{"t":25000,"x":33.8,"y":1.18},{"t":25000,"x":34.6,"y":1.24},{"t":25000,"x":35.4,"y":1.285},{"t":25000,"x":36,"y":1.3},{"t":25000,"x":36.5,"y":1.288},{"t":25000,"x":37,"y":1.263},{"t":25000,"x":38.1,"y":1.2},{"t":25000,"x":39.3,"y":1.142},{"t":25000,"x":40.6,"y":1.1},{"t":25000,"x":44.5,"y":1.1},
      {"t":28000,"x":0,"y":1.2},{"t":28000,"x":6,"y":1.203},{"t":28000,"x":9.3,"y":1.21},{"t":28000,"x":12.2,"y":1.228},{"t":28000,"x":14.3,"y":1.253},{"t":28000,"x":15.6,"y":1.276},{"t":28000,"x":16.5,"y":1.312},{"t":28000,"x":17.2,"y":1.333},{"t":28000,"x":17.9,"y":1.342},{"t":28000,"x":20,"y":1.346},{"t":28000,"x":22,"y":1.35},{"t":28000,"x":23.3,"y":1.355},{"t":28000,"x":24.2,"y":1.348},{"t":28000,"x":25,"y":1.31},{"t":28000,"x":25.8,"y":1.287},{"t":28000,"x":27,"y":1.285},{"t":28000,"x":29,"y":1.28},{"t":28000,"x":31,"y":1.272},{"t":28000,"x":32.2,"y":1.258},{"t":28000,"x":33.1,"y":1.245},{"t":28000,"x":34.1,"y":1.275},{"t":28000,"x":34.9,"y":1.33},{"t":28000,"x":35.7,"y":1.375},{"t":28000,"x":36.4,"y":1.39},{"t":28000,"x":36.9,"y":1.38},{"t":28000,"x":37.4,"y":1.355},{"t":28000,"x":38.5,"y":1.295},{"t":28000,"x":39.7,"y":1.24},{"t":28000,"x":41.1,"y":1.2},{"t":28000,"x":45,"y":1.2},
      {"t":30000,"x":0,"y":1.3},{"t":30000,"x":6,"y":1.303},{"t":30000,"x":9.3,"y":1.31},{"t":30000,"x":12.2,"y":1.328},{"t":30000,"x":14.3,"y":1.354},{"t":30000,"x":15.6,"y":1.377},{"t":30000,"x":16.5,"y":1.41},{"t":30000,"x":17.3,"y":1.43},{"t":30000,"x":18,"y":1.44},{"t":30000,"x":20,"y":1.444},{"t":30000,"x":22,"y":1.448},{"t":30000,"x":23.6,"y":1.452},{"t":30000,"x":24.5,"y":1.445},{"t":30000,"x":25.3,"y":1.408},{"t":30000,"x":26.1,"y":1.388},{"t":30000,"x":27.5,"y":1.385},{"t":30000,"x":29.5,"y":1.38},{"t":30000,"x":31.5,"y":1.37},{"t":30000,"x":32.5,"y":1.357},{"t":30000,"x":33.3,"y":1.347},{"t":30000,"x":34.3,"y":1.375},{"t":30000,"x":35.2,"y":1.43},{"t":30000,"x":36,"y":1.475},{"t":30000,"x":36.7,"y":1.49},{"t":30000,"x":37.2,"y":1.48},{"t":30000,"x":37.7,"y":1.455},{"t":30000,"x":38.8,"y":1.395},{"t":30000,"x":40,"y":1.34},{"t":30000,"x":41.5,"y":1.3},{"t":30000,"x":45.4,"y":1.3},
      {"t":33000,"x":0,"y":1.4},{"t":33000,"x":6,"y":1.403},{"t":33000,"x":9.3,"y":1.41},{"t":33000,"x":12.2,"y":1.429},{"t":33000,"x":14.3,"y":1.455},{"t":33000,"x":15.6,"y":1.478},{"t":33000,"x":16.5,"y":1.505},{"t":33000,"x":17.3,"y":1.524},{"t":33000,"x":18,"y":1.532},{"t":33000,"x":20,"y":1.536},{"t":33000,"x":22,"y":1.54},{"t":33000,"x":24,"y":1.544},{"t":33000,"x":24.9,"y":1.538},{"t":33000,"x":25.7,"y":1.5},{"t":33000,"x":26.5,"y":1.483},{"t":33000,"x":28,"y":1.48},{"t":33000,"x":30,"y":1.475},{"t":33000,"x":32,"y":1.465},{"t":33000,"x":33.4,"y":1.448},{"t":33000,"x":34.5,"y":1.47},{"t":33000,"x":35.5,"y":1.525},{"t":33000,"x":36.4,"y":1.57},{"t":33000,"x":37.1,"y":1.584},{"t":33000,"x":37.6,"y":1.575},{"t":33000,"x":38.1,"y":1.55},{"t":33000,"x":39.2,"y":1.492},{"t":33000,"x":40.4,"y":1.438},{"t":33000,"x":41.9,"y":1.4},{"t":33000,"x":46,"y":1.4},
      {"t":35000,"x":0,"y":1.5},{"t":35000,"x":6,"y":1.503},{"t":35000,"x":9.3,"y":1.511},{"t":35000,"x":12.2,"y":1.53},{"t":35000,"x":14.3,"y":1.556},{"t":35000,"x":15.6,"y":1.578},{"t":35000,"x":16.5,"y":1.6},{"t":35000,"x":17.3,"y":1.617},{"t":35000,"x":18,"y":1.624},{"t":35000,"x":20,"y":1.627},{"t":35000,"x":22,"y":1.631},{"t":35000,"x":24.3,"y":1.635},{"t":35000,"x":25.3,"y":1.63},{"t":35000,"x":26.1,"y":1.595},{"t":35000,"x":26.9,"y":1.58},{"t":35000,"x":28.5,"y":1.577},{"t":35000,"x":30.5,"y":1.572},{"t":35000,"x":32.5,"y":1.56},{"t":35000,"x":34,"y":1.547},{"t":35000,"x":35,"y":1.57},{"t":35000,"x":35.9,"y":1.625},{"t":35000,"x":36.8,"y":1.672},{"t":35000,"x":37.5,"y":1.686},{"t":35000,"x":38,"y":1.676},{"t":35000,"x":38.6,"y":1.65},{"t":35000,"x":39.7,"y":1.59},{"t":35000,"x":41,"y":1.535},{"t":35000,"x":42.6,"y":1.5},{"t":35000,"x":46.5,"y":1.5},
      {"t":37000,"x":0,"y":1.6},{"t":37000,"x":6,"y":1.603},{"t":37000,"x":9.3,"y":1.611},{"t":37000,"x":12.2,"y":1.631},{"t":37000,"x":14.3,"y":1.657},{"t":37000,"x":15.6,"y":1.679},{"t":37000,"x":16.5,"y":1.698},{"t":37000,"x":17.3,"y":1.713},{"t":37000,"x":18,"y":1.72},{"t":37000,"x":20,"y":1.724},{"t":37000,"x":22,"y":1.73},{"t":37000,"x":24.5,"y":1.738},{"t":37000,"x":25.5,"y":1.735},{"t":37000,"x":26.3,"y":1.695},{"t":37000,"x":27.1,"y":1.68},{"t":37000,"x":29,"y":1.676},{"t":37000,"x":31,"y":1.67},{"t":37000,"x":33,"y":1.657},{"t":37000,"x":34.3,"y":1.647},{"t":37000,"x":35.4,"y":1.672},{"t":37000,"x":36.4,"y":1.728},{"t":37000,"x":37.3,"y":1.774},{"t":37000,"x":38,"y":1.788},{"t":37000,"x":38.5,"y":1.778},{"t":37000,"x":39.1,"y":1.752},{"t":37000,"x":40.2,"y":1.692},{"t":37000,"x":41.6,"y":1.635},{"t":37000,"x":43.3,"y":1.6},{"t":37000,"x":46.9,"y":1.6},
      {"t":40000,"x":0,"y":1.7},{"t":40000,"x":6,"y":1.704},{"t":40000,"x":9.3,"y":1.712},{"t":40000,"x":12.2,"y":1.732},{"t":40000,"x":14.3,"y":1.758},{"t":40000,"x":15.6,"y":1.779},{"t":40000,"x":16.5,"y":1.796},{"t":40000,"x":17.3,"y":1.81},{"t":40000,"x":18,"y":1.816},{"t":40000,"x":20,"y":1.82},{"t":40000,"x":22,"y":1.826},{"t":40000,"x":24.8,"y":1.836},{"t":40000,"x":25.8,"y":1.834},{"t":40000,"x":26.6,"y":1.79},{"t":40000,"x":27.4,"y":1.778},{"t":40000,"x":29.5,"y":1.773},{"t":40000,"x":31.5,"y":1.766},{"t":40000,"x":33.5,"y":1.753},{"t":40000,"x":34.9,"y":1.743},{"t":40000,"x":36,"y":1.77},{"t":40000,"x":37,"y":1.825},{"t":40000,"x":37.8,"y":1.868},{"t":40000,"x":38.5,"y":1.882},{"t":40000,"x":39.1,"y":1.872},{"t":40000,"x":39.7,"y":1.845},{"t":40000,"x":40.8,"y":1.79},{"t":40000,"x":42.2,"y":1.735},{"t":40000,"x":43.9,"y":1.7},{"t":40000,"x":47.8,"y":1.7},
      {"t":42000,"x":0,"y":1.8},{"t":42000,"x":6,"y":1.804},{"t":42000,"x":9.3,"y":1.813},{"t":42000,"x":12.2,"y":1.833},{"t":42000,"x":14.3,"y":1.858},{"t":42000,"x":15.6,"y":1.879},{"t":42000,"x":16.5,"y":1.894},{"t":42000,"x":17.3,"y":1.907},{"t":42000,"x":18,"y":1.913},{"t":42000,"x":20,"y":1.917},{"t":42000,"x":22,"y":1.923},{"t":42000,"x":25,"y":1.933},{"t":42000,"x":26,"y":1.932},{"t":42000,"x":26.8,"y":1.888},{"t":42000,"x":27.6,"y":1.878},{"t":42000,"x":30,"y":1.872},{"t":42000,"x":32,"y":1.864},{"t":42000,"x":34,"y":1.85},{"t":42000,"x":35.3,"y":1.842},{"t":42000,"x":36.4,"y":1.87},{"t":42000,"x":37.5,"y":1.925},{"t":42000,"x":38.3,"y":1.963},{"t":42000,"x":39,"y":1.977},{"t":42000,"x":39.6,"y":1.968},{"t":42000,"x":40.2,"y":1.942},{"t":42000,"x":41.3,"y":1.89},{"t":42000,"x":42.8,"y":1.835},{"t":42000,"x":44.3,"y":1.8},{"t":42000,"x":48.4,"y":1.8},
      {"t":45000,"x":0,"y":1.9},{"t":45000,"x":6,"y":1.905},{"t":45000,"x":9.3,"y":1.914},{"t":45000,"x":12.2,"y":1.934},{"t":45000,"x":14.3,"y":1.958},{"t":45000,"x":15.8,"y":1.98},{"t":45000,"x":16.6,"y":1.994},{"t":45000,"x":17.4,"y":2.005},{"t":45000,"x":18,"y":2.01},{"t":45000,"x":20,"y":2.014},{"t":45000,"x":22,"y":2.02},{"t":45000,"x":25.4,"y":2.031},{"t":45000,"x":26.4,"y":2.03},{"t":45000,"x":27.2,"y":1.986},{"t":45000,"x":28,"y":1.98},{"t":45000,"x":30.5,"y":1.972},{"t":45000,"x":32.5,"y":1.962},{"t":45000,"x":34.5,"y":1.95},{"t":45000,"x":35.9,"y":1.941},{"t":45000,"x":37.1,"y":1.97},{"t":45000,"x":38.2,"y":2.025},{"t":45000,"x":39.1,"y":2.062},{"t":45000,"x":39.8,"y":2.076},{"t":45000,"x":40.4,"y":2.066},{"t":45000,"x":41.1,"y":2.038},{"t":45000,"x":42.3,"y":1.985},{"t":45000,"x":43.7,"y":1.935},{"t":45000,"x":44.9,"y":1.9},{"t":45000,"x":49.2,"y":1.9},
      {"t":48000,"x":0,"y":2},{"t":48000,"x":6,"y":2.006},{"t":48000,"x":9.3,"y":2.015},{"t":48000,"x":12.2,"y":2.035},{"t":48000,"x":14.5,"y":2.06},{"t":48000,"x":16.1,"y":2.08},{"t":48000,"x":17,"y":2.098},{"t":48000,"x":17.8,"y":2.108},{"t":48000,"x":20,"y":2.112},{"t":48000,"x":22.5,"y":2.118},{"t":48000,"x":26,"y":2.128},{"t":48000,"x":27,"y":2.13},{"t":48000,"x":27.6,"y":2.088},{"t":48000,"x":28.3,"y":2.08},{"t":48000,"x":31,"y":2.072},{"t":48000,"x":33,"y":2.064},{"t":48000,"x":35,"y":2.05},{"t":48000,"x":36.7,"y":2.042},{"t":48000,"x":37.8,"y":2.075},{"t":48000,"x":38.8,"y":2.13},{"t":48000,"x":39.6,"y":2.165},{"t":48000,"x":40.2,"y":2.174},{"t":48000,"x":40.9,"y":2.16},{"t":48000,"x":41.7,"y":2.125},{"t":48000,"x":43.1,"y":2.07},{"t":48000,"x":44.4,"y":2.025},{"t":48000,"x":45.5,"y":2},{"t":48000,"x":50.2,"y":2},
      {"t":50000,"x":0,"y":2.1},{"t":50000,"x":6.4,"y":2.107},{"t":50000,"x":9.3,"y":2.116},{"t":50000,"x":12.2,"y":2.136},{"t":50000,"x":14.6,"y":2.16},{"t":50000,"x":16.1,"y":2.181},{"t":50000,"x":17,"y":2.203},{"t":50000,"x":17.8,"y":2.214},{"t":50000,"x":19.9,"y":2.214},{"t":50000,"x":22.3,"y":2.221},{"t":50000,"x":24.6,"y":2.226},{"t":50000,"x":27,"y":2.228},{"t":50000,"x":27.4,"y":2.214},{"t":50000,"x":28,"y":2.181},{"t":50000,"x":29.3,"y":2.174},{"t":50000,"x":31.7,"y":2.17},{"t":50000,"x":34,"y":2.156},{"t":50000,"x":37,"y":2.14},{"t":50000,"x":38.2,"y":2.192},{"t":50000,"x":39.3,"y":2.253},{"t":50000,"x":40.1,"y":2.268},{"t":50000,"x":40.8,"y":2.271},{"t":50000,"x":41.4,"y":2.255},{"t":50000,"x":42,"y":2.226},{"t":50000,"x":43.5,"y":2.17},{"t":50000,"x":44.9,"y":2.125},{"t":50000,"x":46.4,"y":2.1},{"t":50000,"x":50.88,"y":2.1}
    ]
  },
  "hconcat": [
    {
      "title": "(a)",
      "width": 288,
      "height": 357,
      "data": {"name": "a"},
      "mark": {"type": "line", "strokeWidth": 1.25},
      "encoding": {
        "x": {"field": "x", "type": "quantitative",
              "scale": {"domain": [0, 50.88], "nice": false, "zero": false},
              "axis": {"values": [0,5,10,15,20,25,30,35,40,45,50], "title": "ħω(meV)", "titleFontStyle": "italic", "titlePadding": 1}},
        "y": {"field": "y", "type": "quantitative",
              "scale": {"domain": [0, 6.02], "nice": false},
              "axis": {"values": [0,0.5,1,1.5,2,2.5,3,3.5,4,4.5,5,5.5], "format": ".1f", "title": "α²F(ω)(arb.units)", "titlePadding": 7}},
        "color": {"field": "t", "type": "nominal",
                  "scale": {"domain": [50000,48000,45000,42000,40000,37000,35000,33000,30000,28000,25000,22000,20000,18000,15000,12000,10000,8000,5000,3000,1000,315],
                            "range": ["#1f77b4","#ff7f0e","#2ca02c","#d62728","#9467bd","#8c564b","#e377c2","#7f7f7f","#bcbd22","#17becf","#1f77b4","#ff7f0e","#2ca02c","#d62728","#9467bd","#8c564b","#e377c2","#7f7f7f","#bcbd22","#17becf","#1f77b4","#ff7f0e"]},
                  "legend": {"title": null, "labelExpr": "datum.label + 'K'"}}
      }
    },
    {
      "title": "(b)",
      "width": 288,
      "height": 357,
      "data": {"name": "b"},
      "mark": {"type": "line", "strokeWidth": 1.25},
      "encoding": {
        "x": {"field": "x", "type": "quantitative",
              "scale": {"domain": [0, 50.88], "nice": false, "zero": false},
              "axis": {"values": [0,5,10,15,20,25,30,35,40,45,50], "title": "ħω(meV)", "titleFontStyle": "italic", "titlePadding": 1}},
        "y": {"field": "y", "type": "quantitative",
              "scale": {"domain": [0, 2.406], "nice": false},
              "axis": {"values": [0,0.2,0.4,0.6,0.8,1,1.2,1.4,1.6,1.8,2,2.2], "format": ".1f", "title": "F(ω)(arb.units)", "titlePadding": 4}},
        "color": {"field": "t", "type": "nominal",
                  "scale": {"domain": [50000,48000,45000,42000,40000,37000,35000,33000,30000,28000,25000,22000,20000,18000,15000,12000,10000,8000,5000,3000,1000,315],
                            "range": ["#1f77b4","#ff7f0e","#2ca02c","#d62728","#9467bd","#8c564b","#e377c2","#7f7f7f","#bcbd22","#17becf","#1f77b4","#ff7f0e","#2ca02c","#d62728","#9467bd","#8c564b","#e377c2","#7f7f7f","#bcbd22","#17becf","#1f77b4","#ff7f0e"]},
                  "legend": {"title": null, "labelExpr": "datum.label + 'K'"}}
      }
    }
  ],
  "config": {
    "font": "DejaVu Sans",
    "view": {"stroke": "#333333", "strokeWidth": 0.8},
    "axis": {"grid": false, "domain": false, "tickColor": "#222222", "tickSize": 3, "tickWidth": 0.8,
             "labelFontSize": 8.3, "labelColor": "#222222", "labelPadding": 2, "labelFlush": false,
             "titleFontSize": 8.3, "titleFontWeight": "normal", "titleColor": "#222222"},
    "title": {"fontSize": 10, "fontWeight": "normal", "color": "#222222", "offset": 4},
    "legend": {"orient": "none", "legendX": 647.7, "legendY": -2.2, "symbolType": "stroke", "symbolStrokeWidth": 1.5, "symbolSize": 240,
               "labelFontSize": 8.3, "labelColor": "#222222", "labelOffset": 7, "rowPadding": 0.5,
               "strokeColor": "#cccccc", "padding": 2, "cornerRadius": 2}
  }
}
